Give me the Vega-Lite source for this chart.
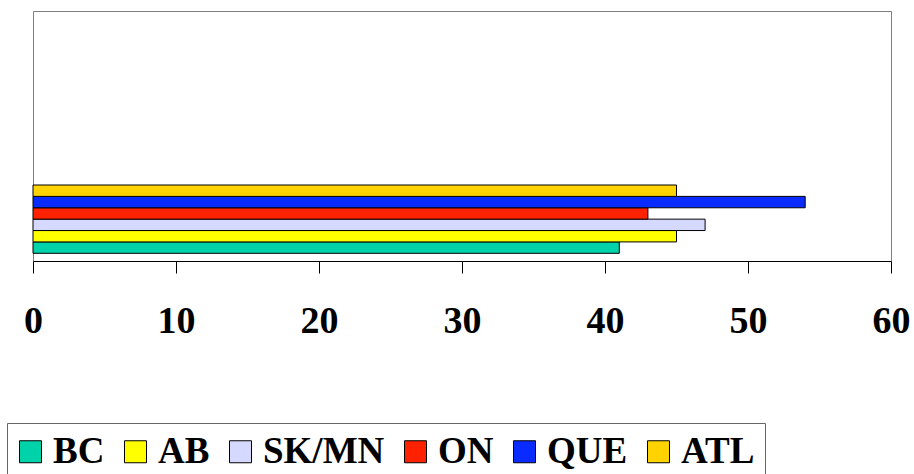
{
  "$schema": "https://vega.github.io/schema/vega-lite/v6.json",
  "width": 858,
  "height": 250,
  "autosize": {"type": "none"},
  "padding": {"left": 33, "top": 11, "right": 23, "bottom": 213},
  "background": "white",
  "config": {
    "view": {"stroke": "#7f7f7f", "strokeWidth": 1},
    "font": "Liberation Serif"
  },
  "data": {
    "values": [
      {"region": "BC", "value": 41},
      {"region": "AB", "value": 45},
      {"region": "SK/MN", "value": 47},
      {"region": "ON", "value": 43},
      {"region": "QUE", "value": 54},
      {"region": "ATL", "value": 45}
    ]
  },
  "mark": {"type": "bar", "stroke": "#000000", "strokeWidth": 1},
  "encoding": {
    "y": {
      "field": "region",
      "type": "nominal",
      "scale": {
        "domain": ["ATL", "QUE", "ON", "SK/MN", "AB", "BC"],
        "paddingInner": 0,
        "paddingOuter": 0,
        "range": [174, 242.3]
      },
      "axis": {
        "title": null,
        "labels": false,
        "ticks": false,
        "domain": true,
        "domainColor": "#000000",
        "domainWidth": 1
      }
    },
    "x": {
      "field": "value",
      "type": "quantitative",
      "scale": {"domain": [0, 60], "nice": false},
      "axis": {
        "title": null,
        "values": [0, 10, 20, 30, 40, 50, 60],
        "grid": false,
        "domainColor": "#000000",
        "domainWidth": 1,
        "tickColor": "#000000",
        "tickSize": 12,
        "tickWidth": 1,
        "labelFont": "Liberation Serif",
        "labelFontSize": 38,
        "labelFontWeight": "bold",
        "labelColor": "#000000",
        "labelBaseline": "alphabetic",
        "labelPadding": 59,
        "labelFlush": false,
        "labelOverlap": false
      }
    },
    "color": {
      "field": "region",
      "type": "nominal",
      "scale": {
        "domain": ["BC", "AB", "SK/MN", "ON", "QUE", "ATL"],
        "range": ["#00D3A9", "#FFFF00", "#D6D9FF", "#FF2200", "#0A2BFF", "#FFD300"]
      },
      "legend": {
        "title": null,
        "orient": "none",
        "legendX": -26,
        "legendY": 412,
        "direction": "horizontal",
        "columns": 6,
        "columnPadding": 17,
        "symbolType": "square",
        "symbolSize": 484,
        "symbolOffset": -5,
        "symbolStrokeWidth": 1,
        "symbolStrokeColor": "#000000",
        "labelFont": "Liberation Serif",
        "labelFontSize": 37,
        "labelFontWeight": "bold",
        "labelColor": "#000000",
        "labelOffset": 4,
        "labelLimit": 0,
        "padding": 10,
        "strokeColor": "#666666",
        "fillColor": "#FFFFFF"
      }
    }
  }
}
